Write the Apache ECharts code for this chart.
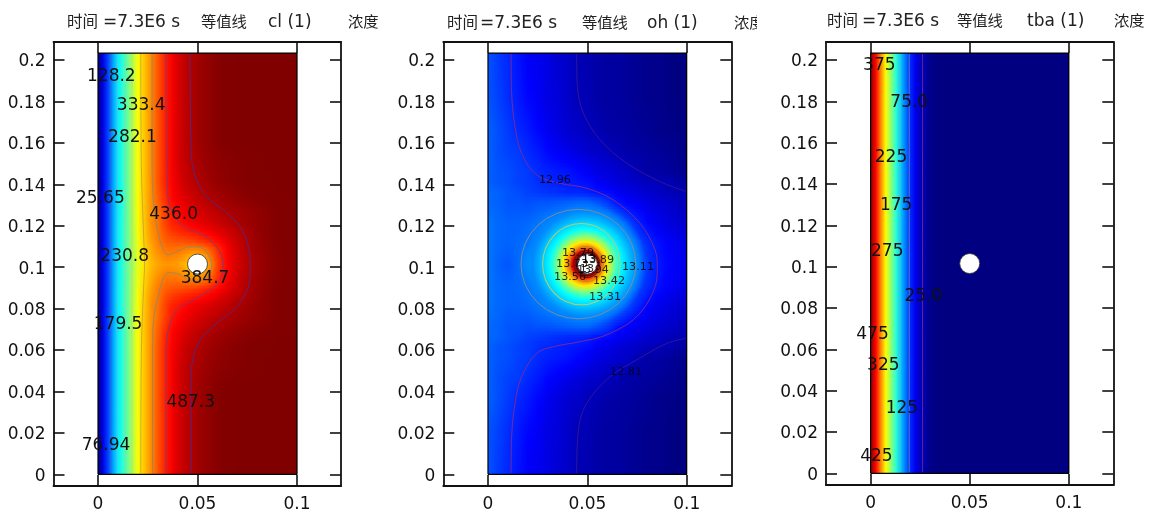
<!DOCTYPE html>
<html><head><meta charset="utf-8">
<style>html,body{margin:0;padding:0;background:#fff}#c{width:1150px;height:513px}canvas{filter:blur(.4px)}</style>
<script src="https://cdn.jsdelivr.net/npm/echarts@6/dist/echarts.min.js"></script>
</head><body><div id="c"></div>
<script>
// ---------- axis ticks ----------
const xTicks = [0, 0.05, 0.1];
const yTicks = [0, 0.02, 0.04, 0.06, 0.08, 0.1, 0.12, 0.14, 0.16, 0.18, 0.2];
const domainTop = 0.2033;
const holeX = 0.05, holeY = 0.1015;

// ---------- cl (1): concentration per x node, per distance from the hole's height ----------
const clX = [0,.0025,.005,.0075,.01,.0125,.015,.0175,.02,.0225,.025,.0275,.03,.0325,.035,.0375,.04,.0425,.045,.0475,.05,.0525,.055,.0575,.06,.0625,.065,.0675,.07,.0725,.075,.0775,.08,.085,.09,.1];
const clDist = [0,.004,.008,.012,.016,.02,.026,.032,.04,.05,.06];
const clRows = [
[0,51,97,144,185,215,244,275,305,330,345,357,365,370,372,371,368,360,350,345,345,350,362,388,415,434,448,460,470,478,485,491,496,503,509,513],
[0,51,97,144,185,215,245,277,308,333,350,363,372,379,384,382,380,374,365,358,358,365,376,398,420,437,450,462,472,480,486,492,497,504,510,513],
[0,51,97,144,185,215,245,278,310,335,353,368,380,388,392,394,393,390,388,387,388,392,400,412,428,441,453,464,474,482,488,494,499,505,510,513],
[0,51,97,144,186,216,246,279,313,338,358,374,386,397,404,408,410,412,415,418,422,428,433,439,446,454,462,470,477,484,490,495,500,506,511,513],
[0,51,97,144,186,216,246,280,315,340,362,378,388,402,414,422,427,431,434,438,441,446,451,456,462,468,473,479,484,487,492,497,501,507,511,513],
[0,51,97,144,186,216,246,281,316,342,362,382,390,408,422,433,436,443,449,454,458,462,466,470,474,478,482,486,490,494,497,500,503,507,511,513],
[0,51,97,144,185,215,246,282,318,344,364,380,394,410,425,438,446,453,459,464,469,473,477,481,484,487,490,493,496,498,500,502,504,508,511,513],
[0,51,97,144,185,215,246,282,318,344,364,384,400,418,434,448,456,463,469,474,479,483,487,491,494,497,499,501,503,505,507,508,509,511,512,513],
[0,51,97,144,185,215,246,282,318,344,364,386,405,424,440,452,462,471,478,483,487,492,496,499,502,504,506,508,509,510,511,512,512,512,513,513],
[0,51,97,144,185,215,246,282,318,344,364,386,405,424,441,455,467,476,483,488,493,497,500,503,505,507,508,509,510,511,512,512,512,513,513,513],
[0,51,97,144,185,215,246,282,318,344,364,386,405,424,441,455,467,477,484,490,496,500,503,506,509,511,512,512,513,513,513,513,513,513,513,513]
];
const clRange = [0, 513];

// ---------- oh (1) ----------
const ohX = [0,.005,.01,.015,.02,.025,.03,.035,.04,.045,.05,.055,.06,.065,.07,.075,.08,.085,.09,.095,.1];
const ohDist = [0,.01,.02,.03,.035,.04,.045,.055,.065,.08,.1];
const ohRows = [
[13.10,13.07,13.05,13.08,13.15,13.23,13.30,13.38,13.45,13.50,13.50,13.45,13.30,13.18,13.10,13.05,13.01,12.96,12.93,12.91,12.89],
[13.10,13.08,13.07,13.08,13.10,13.13,13.18,13.24,13.30,13.38,13.40,13.38,13.24,13.15,13.08,13.04,12.99,12.95,12.92,12.90,12.88],
[13.10,13.08,13.07,13.07,13.08,13.10,13.13,13.15,13.16,13.18,13.19,13.18,13.15,13.11,13.04,12.98,12.93,12.90,12.88,12.86,12.85],
[13.08,13.07,13.05,13.05,13.04,13.05,13.05,13.06,13.07,13.08,13.08,13.05,13.01,12.95,12.92,12.90,12.88,12.86,12.85,12.83,12.82],
[13.08,13.07,13.05,13.04,13.02,13.01,13.00,12.99,12.98,12.98,12.97,12.95,12.94,12.91,12.89,12.87,12.85,12.84,12.82,12.815,12.81],
[13.07,13.05,13.04,13.02,13.01,12.99,12.98,12.97,12.96,12.95,12.94,12.91,12.89,12.87,12.85,12.84,12.82,12.815,12.81,12.79,12.78],
[13.07,13.05,13.04,13.02,13.01,12.985,12.97,12.96,12.95,12.93,12.91,12.88,12.87,12.85,12.84,12.81,12.79,12.785,12.78,12.76,12.75],
[13.07,13.04,13.02,13.01,12.98,12.96,12.93,12.91,12.89,12.87,12.85,12.84,12.82,12.81,12.79,12.785,12.78,12.77,12.76,12.75,12.74],
[13.07,13.04,13.01,12.98,12.96,12.93,12.90,12.875,12.85,12.84,12.82,12.81,12.79,12.785,12.78,12.77,12.76,12.75,12.745,12.74,12.73],
[13.05,13.02,12.99,12.96,12.93,12.91,12.88,12.87,12.84,12.815,12.81,12.79,12.78,12.78,12.77,12.76,12.75,12.75,12.74,12.73,12.73],
[13.05,13.01,12.98,12.95,12.91,12.90,12.88,12.85,12.84,12.81,12.80,12.79,12.78,12.78,12.77,12.76,12.75,12.75,12.74,12.73,12.73]
];
const ohRange = [12.73, 14.27];
// radial profile round the hole
const ohRingCentreX = 0.049;
const ohRingR = [0,.005,.0065,.0085,.011,.014,.0175,.0196,.0236,.0265,.031];
const ohRingV = [14.22,14.22,14.12,13.89,13.72,13.50,13.32,13.27,13.18,13.13,13.10];

// ---------- tba (1) ----------
const tbaX = [0,.0025,.005,.0075,.01,.0125,.015,.0175,.02,.0225,.025,.03,.035,.1];
const tbaDist = [0];
const tbaRows = [[490,435,370,310,260,210,160,120,80,52,30,5,0,0]];
const tbaRange = [0, 500];

// ---------- contour lines ----------
const cl487 = [[.0462,.2032],[.0466,.1646],[.0471,.1517],[.0496,.1421],[.0546,.134],[.063,.1276],[.0714,.1196],[.0756,.1099],[.0765,.1002],[.0756,.0906],[.0697,.0809],[.0597,.0729],[.0513,.0648],[.0476,.0552],[.0467,.0439],[.0467,.0005]];
const cl436 = [[.0341,.2032],[.0345,.1485],[.0353,.1324],[.0378,.126],[.0429,.1196],[.0513,.1163],[.058,.1115],[.0622,.1051],[.0627,.1002],[.0613,.0938],[.0563,.089],[.0479,.0842],[.0395,.0793],[.0353,.0697],[.0341,.0584],[.0341,.0005]];
const cl385 = [[.0272,.2032],[.0272,.1485],[.0281,.1292],[.0303,.1163],[.0328,.1083],[.0353,.1059],[.0395,.1075],[.0462,.1099],[.0513,.1096],[.0555,.1059],[.0571,.101],[.0555,.0962],[.0504,.093],[.0445,.0946],[.0395,.097],[.0353,.0973],[.0328,.0946],[.0303,.0858],[.0281,.0761],[.0274,.06],[.0274,.0005]];
const cl333 = [[.0215,.2032],[.0218,.1485],[.0232,.1083],[.0234,.1002],[.023,.0923],[.0218,.06],[.0215,.0005]];
const cl282 = [[.017,.2032],[.017,.0005]];
const cl231 = [[.0138,.2032],[.0138,.0005]];
const cl180 = [[.0097,.2032],[.0097,.0005]];
const cl128 = [[.0067,.2032],[.0067,.0005]];
const clContours = [cl487, cl436, cl385, cl333, cl282, cl231, cl180, cl128];
const clContourColors = ['#4a2a90','#7a3a80','#8a8a70','#c8a040','#c0d870','#80e0b0','#60c0e0','#3070e0'];

const oh281a = [[.0446,.2032],[.045,.1872],[.048,.1744],[.0564,.1615],[.0698,.1502],[.0866,.1413],[.0997,.1365]];
const oh281b = [[.0997,.0656],[.09,.0632],[.0748,.0552],[.0614,.0471],[.0497,.0343],[.0455,.0214],[.0446,.0005]];
const oh296 = [[.0116,.2032],[.0119,.1839],[.0136,.1678],[.0169,.1549],[.0245,.1445],[.0362,.1405],[.0497,.1381],[.0631,.1324],[.0765,.1212],[.0841,.1083],[.0852,.1002],[.0841,.0906],[.0748,.0761],[.0597,.0673],[.0463,.064],[.0329,.0616],[.0245,.0584],[.0169,.0471],[.0136,.0343],[.0119,.0182],[.0116,.0005]];
const ohContours = [oh281a, oh281b, oh296];
const ohContourColors = ['#3a1a90','#3a1a90','#8a2a90'];
// closed contours round the hole: centre x, centre y, x radius, y radius
const ohRingContours = [[.0455,.1015,.0289,.0264],[.047,.1015,.0195,.0196],[.0495,.1015,.0085,.0085],[.0497,.1015,.0065,.0065],[.05,.1015,.0056,.0056]];
const ohRingColors = ['#808c98','#b8cc70','#c08830','#601818','#30101a'];

const tba25 = [[.0262,.2032],[.0262,.0005]];
const tba75 = [[.0195,.2032],[.0195,.0005]];
const tba125 = [[.0148,.2032],[.0148,.0005]];
const tbaContours = [tba25, tba75, tba125];
const tbaContourColors = ['#7a2a90','#6080b0','#60c0c0'];

// ---------- contour labels ----------
const clLabels = ['128.2','333.4','282.1','25.65','436.0','230.8','384.7','179.5','487.3','76.94'];
const clLabelX = [.0067,.0217,.0173,.0012,.038,.0134,.0538,.0101,.0466,.004];
const clLabelY = [.1932,.1788,.1636,.134,.1263,.1062,.0954,.0732,.0354,.0146];
const ohLabels = ['12.96','12.81','13.79','13.73','13.89','13.94','13.56','13.42','13.31','13.11','13','13'];
const ohLabelX = [.0337,.0695,.0453,.0423,.0554,.0528,.0413,.0609,.0589,.0755,.0498,.0508];
const ohLabelY = [.1426,.0499,.1073,.102,.1039,.0991,.0957,.0938,.0861,.101,.0996,.1045];
const tbaLabels = ['375','75.0','225','175','275','25.0','475','325','125','425'];
const tbaLabelX = [.0044,.0195,.0103,.0129,.0084,.0266,.001,.0064,.0158,.0029];
const tbaLabelY = [.1984,.1803,.1535,.1306,.1084,.0866,.0681,.0529,.0323,.0089];

// ---------- titles ----------
const timeWord = '时间', timeValue = '=7.3E6 s', contourWord = '等值线', concWord = '浓度';
const panelNames = ['cl (1)', 'oh (1)', 'tba (1)'];

// ---------- helpers ----------
const LATIN = '"DejaVu Sans"', CJK = '"Noto Sans CJK SC"';
function clamp01(a){return Math.max(0,Math.min(1,a));}
function jet(t,alpha){
  t=clamp01(t);
  const r=clamp01(1.5-Math.abs(4*t-3)),g=clamp01(1.5-Math.abs(4*t-2)),b=clamp01(1.5-Math.abs(4*t-1));
  return 'rgba('+Math.round(r*255)+','+Math.round(g*255)+','+Math.round(b*255)+','+(alpha==null?1:alpha)+')';
}
// A field band joins two read rows; it is shaded between them on screen. Each band is one data item.
function bandData(dists){
  const out=[];
  const n=dists.length;
  const add=(dA,dB,kA,kB,sign)=>{
    let yA=holeY+sign*dA,yB=holeY+sign*dB;
    yA=Math.max(0,Math.min(domainTop,yA));yB=Math.max(0,Math.min(domainTop,yB));
    if(yA!==yB) out.push([yA,yB,kA,kB]);
  };
  [1,-1].forEach(sign=>{
    for(let k=0;k<n-1;k++) add(dists[k],dists[k+1],k,k+1,sign);
    add(dists[n-1],1,n-1,n-1,sign);
  });
  return out;
}
function fieldSeries(i,xs,dists,rows,range){
  const xMax=xs[xs.length-1];
  const s=v=>(v-range[0])/(range[1]-range[0]);
  return {type:'custom',xAxisIndex:i*2,yAxisIndex:i*2,silent:true,z:1,progressive:0,clip:true,
    data:bandData(dists),
    renderItem:function(p,api){
      const yA=api.value(0),yB=api.value(1),kA=api.value(2),kB=api.value(3);
      const a=api.coord([0,yA]),b=api.coord([xMax,yB]);
      const steps=Math.max(1,Math.round(Math.abs(b[1]-a[1])/1.5));
      const x0=Math.round(a[0]),x1=Math.round(b[0]);
      const children=[];
      for(let j=0;j<steps;j++){
        const f0=j/steps,f1=(j+1)/steps,fm=(f0+f1)/2;
        const py0=Math.round(a[1]+(b[1]-a[1])*f0),py1=Math.round(a[1]+(b[1]-a[1])*f1);
        const top=Math.min(py0,py1),h=Math.abs(py1-py0);
        const stops=xs.map((x,c)=>({offset:x/xMax,color:jet(s(rows[kA][c]*(1-fm)+rows[kB][c]*fm))}));
        children.push({type:'rect',shape:{x:x0,y:top,width:x1-x0,height:h+1},
          style:{fill:new echarts.graphic.LinearGradient(0,0,1,0,stops)}});
      }
      return {type:'group',children:children};
    }};
}
function lineSeries(i,points,color){
  return {type:'line',xAxisIndex:i*2,yAxisIndex:i*2,data:points,smooth:0.35,symbol:'none',silent:true,z:3,
    lineStyle:{color:color,width:1,opacity:.85}};
}
function frameSeries(i){
  return {type:'line',xAxisIndex:i*2,yAxisIndex:i*2,symbol:'none',silent:true,z:4,
    data:[[0,0],[0,domainTop],[0.1,domainTop],[0.1,0],[0,0]],lineStyle:{color:'#000',width:1.2}};
}
function holeSeries(i){
  return {type:'scatter',xAxisIndex:i*2,yAxisIndex:i*2,silent:true,z:5,data:[[holeX,holeY]],symbol:'circle',symbolSize:20,
    itemStyle:{color:'#fff',borderColor:'#333',borderWidth:.8,opacity:1}};
}
function labelSeries(i,texts,xs,ys,size,color,shift){
  return {type:'scatter',xAxisIndex:i*2,yAxisIndex:i*2,silent:true,z:6,symbolSize:1,itemStyle:{opacity:0},
    data:texts.map((t,k)=>({name:t,value:[xs[k],ys[k]]})),
    label:{show:true,position:'inside',formatter:'{b}',fontFamily:LATIN,fontSize:size,color:color,opacity:1,verticalAlign:'top',lineHeight:shift}};
}

// pixel frames of the three panels
const panels=[
 {left:53.5,width:287.5,top:42,height:444,xmin:-.02236,xmax:.1221,ymin:-.00565,ymax:.2087},
 {left:443.3,width:288,top:42,height:444,xmin:-.02249,xmax:.12245,ymin:-.00565,ymax:.2087},
 {left:826,width:287.3,top:42,height:443,xmin:-.02250,xmax:.12243,ymin:-.00566,ymax:.2087}
];
const grids=[],xAxes=[],yAxes=[];
panels.forEach((p,i)=>{
  grids.push({left:p.left,top:p.top,width:p.width,height:p.height,show:false});
  [0,1].forEach(side=>{
    xAxes.push({type:'value',gridIndex:i,position:side?'top':'bottom',min:p.xmin,max:p.xmax,
      axisLine:{onZero:false,lineStyle:{color:'#111',width:1.8}},splitLine:{show:false},
      axisTick:{show:true,inside:true,length:11,customValues:xTicks,lineStyle:{color:'#111',width:1.6}},
      axisLabel:{show:!side,customValues:xTicks,margin:10,fontFamily:LATIN,fontSize:17,color:'#111'}});
    yAxes.push({type:'value',gridIndex:i,position:side?'right':'left',min:p.ymin,max:p.ymax,
      axisLine:{onZero:false,lineStyle:{color:'#111',width:1.8}},splitLine:{show:false},
      axisTick:{show:true,inside:true,length:11,customValues:yTicks,lineStyle:{color:'#111',width:1.6}},
      axisLabel:{show:!side,customValues:yTicks,margin:8,verticalAlign:'top',lineHeight:4,fontFamily:LATIN,fontSize:17,color:'#111'}});
  });
});

const series=[];
// cl
series.push(fieldSeries(0,clX,clDist,clRows,clRange));
clContours.forEach((c,k)=>series.push(lineSeries(0,c,clContourColors[k])));
series.push(frameSeries(0),holeSeries(0),labelSeries(0,clLabels,clLabelX,clLabelY,17,'#111',4));
// oh
series.push(fieldSeries(1,ohX,ohDist,ohRows,ohRange));
series.push({type:'custom',xAxisIndex:2,yAxisIndex:2,silent:true,z:2,clip:true,data:[[ohRingCentreX,holeY]],
  renderItem:function(p,api){
    const c=api.coord([api.value(0),api.value(1)]);
    const rMax=ohRingR[ohRingR.length-1];
    const px=api.size([rMax,0])[0];
    const s=v=>(v-ohRange[0])/(ohRange[1]-ohRange[0]);
    const stops=ohRingR.map((r,k)=>({offset:r/rMax,color:jet(s(ohRingV[k]),k===ohRingR.length-1?0:1)}));
    return {type:'circle',shape:{cx:c[0],cy:c[1],r:px},style:{fill:new echarts.graphic.RadialGradient(.5,.5,.5,stops)}};
  }});
ohContours.forEach((c,k)=>series.push(lineSeries(1,c,ohContourColors[k])));
series.push({type:'custom',xAxisIndex:2,yAxisIndex:2,silent:true,z:3,clip:true,
  data:ohRingContours.map((r,k)=>r.concat([k])),
  renderItem:function(p,api){
    const c=api.coord([api.value(0),api.value(1)]);
    const rx=api.size([api.value(2),0])[0],ry=api.size([0,api.value(3)])[1];
    return {type:'circle',x:c[0],y:c[1],scaleY:ry/rx,shape:{cx:0,cy:0,r:rx},
      style:{fill:'none',stroke:ohRingColors[api.value(4)],lineWidth:1}};
  }});
series.push(frameSeries(1),holeSeries(1),labelSeries(1,ohLabels,ohLabelX,ohLabelY,11.2,'rgba(0,0,0,.82)',3));
// tba
series.push(fieldSeries(2,tbaX,tbaDist,tbaRows,tbaRange));
tbaContours.forEach((c,k)=>series.push(lineSeries(2,c,tbaContourColors[k])));
series.push(frameSeries(2),holeSeries(2),labelSeries(2,tbaLabels,tbaLabelX,tbaLabelY,17,'#111',4));

// titles: real text, placed per panel
function txt(x,y,t,font,size,z){return {type:'text',x:x,y:y,z:z||10,style:{text:t,fontFamily:font,fontSize:size,fill:'#222',textVerticalAlign:'middle'}};}
const titleRow=[
 {y:22,a:67,b:103,c:201,d:268,e:348,name:panelNames[0]},
 {y:23,a:447,b:480,c:582,d:647,e:734,name:panelNames[1]},
 {y:21,a:827,b:862,c:957,d:1027,e:1114,name:panelNames[2]}
];
const graphic=[];
titleRow.forEach(r=>{
  graphic.push(txt(r.a,r.y-1,timeWord,CJK,15.5),txt(r.b,r.y+1,timeValue,LATIN,17),txt(r.c,r.y-1,contourWord,CJK,15.3),txt(r.d,r.y+1,r.name,LATIN,17),txt(r.e,r.y-1,concWord,CJK,15.3));
});
// the original crops the right-hand word at each panel's edge
graphic.push({type:'rect',z:11,shape:{x:757,y:8,width:16,height:28},style:{fill:'#fff'}});
graphic.push({type:'rect',z:11,shape:{x:378,y:8,width:12,height:28},style:{fill:'#fff'}});

const chart=echarts.init(document.getElementById('c'),null,{renderer:'canvas',width:1150,height:513});
chart.setOption({animation:false,backgroundColor:'#fff',grid:grids,xAxis:xAxes,yAxis:yAxes,series:series,graphic:graphic});
</script></body></html>
